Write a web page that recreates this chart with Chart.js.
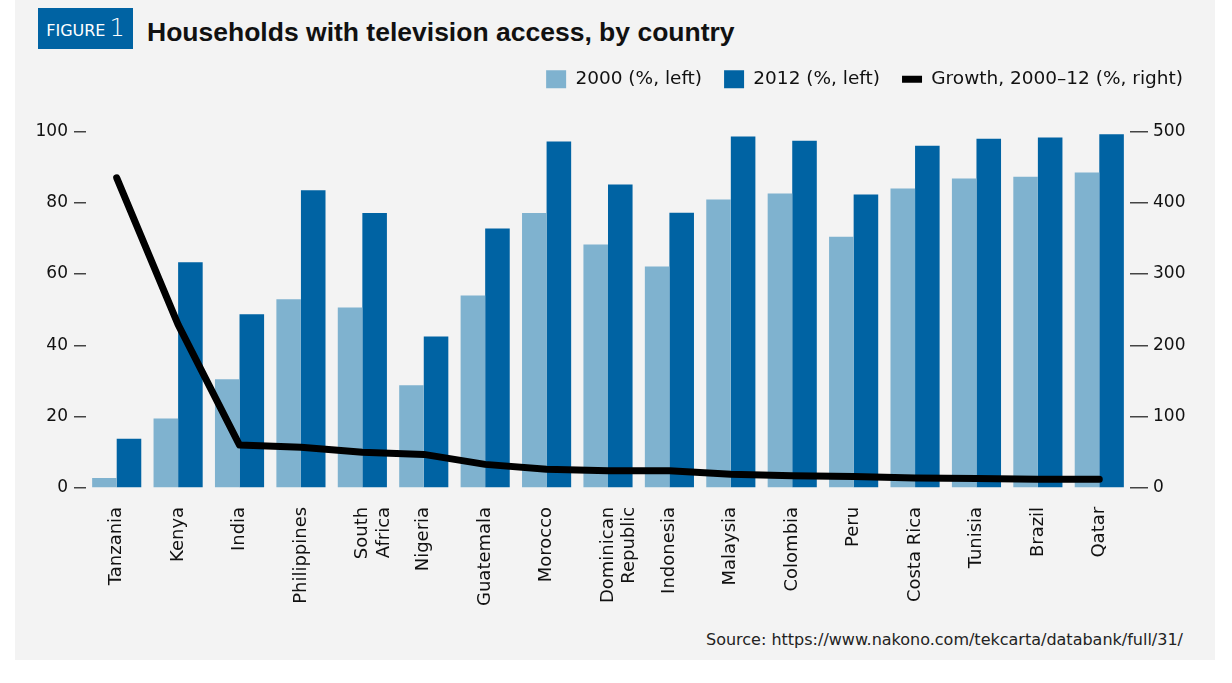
<!DOCTYPE html>
<html>
<head>
<meta charset="utf-8">
<script src="https://cdn.jsdelivr.net/npm/chart.js@4"></script>
<style>
  body { margin: 0; background: #ffffff; width: 1232px; height: 683px; position: relative; overflow: hidden; }
  #panel { position: absolute; left: 15px; top: 0; width: 1200px; height: 660px; background: #f3f3f3; }
  #figbox { position: absolute; left: 38px; top: 8px; width: 95px; height: 41px; background: #0063a3; color: #fff;
    font-family: "DejaVu Sans"; font-size: 16px; line-height: 41px; text-align: center; }
  #figbox span { font-size: 24px; font-weight: 200; margin-left: 4px; }
  #title { position: absolute; left: 147px; top: 17px; font-family: "Liberation Sans"; font-weight: bold; font-size: 26.5px; color: #111; }
  #chartBox { position: absolute; left: 15px; top: 48px; width: 1200px; height: 582px; }
  #source { position: absolute; right: 49px; top: 630px; font-family: "DejaVu Sans"; font-size: 16px; color: #222; }
</style>
</head>
<body>
<div id="panel"></div>
<div id="figbox">FIGURE<span>1</span></div>
<div id="title">Households with television access, by country</div>
<div id="chartBox"><canvas id="myChart"></canvas></div>
<div id="source">Source: https://www.nakono.com/tekcarta/databank/full/31/</div>
<script>
// Países (eixo X)
const paises = ["Tanzania", "Kenya", "India", "Philippines", ["South", "Africa"], "Nigeria", "Guatemala", "Morocco",
  ["Dominican", "Republic"], "Indonesia", "Malaysia", "Colombia", "Peru", "Costa Rica", "Tunisia", "Brazil", "Qatar"];

// Domicílios com TV (%)
const tv2000 = [2.8, 19.5, 30.5, 52.9, 50.6, 28.8, 54.0, 77.1, 68.3, 62.1, 80.9, 82.6, 70.5, 84.0, 86.8, 87.3, 88.5];
const tv2012 = [13.8, 63.3, 48.7, 83.5, 77.1, 42.5, 72.8, 97.2, 85.1, 77.2, 98.6, 97.4, 82.3, 96.0, 98.0, 98.3, 99.2];

// Crescimento 2000-12 (%)
const crescimento = [435, 229, 60, 57, 50, 47, 33, 26, 24, 24, 19, 17, 16, 14, 13, 12, 12];

const fonte = { family: "DejaVu Sans", size: 17 };

// Espaço extra entre a legenda e o gráfico
const legendaEspaco = {
  id: "legendaEspaco",
  beforeInit(chart) {
    const fitOriginal = chart.legend.fit;
    chart.legend.fit = function () {
      fitOriginal.bind(chart.legend)();
      this.height += 33;
    };
  },
};

const ctx = document.getElementById("myChart");
new Chart(ctx, {
  data: {
    labels: paises,
    datasets: [
      { type: "bar", label: "2000 (%, left)", data: tv2000, backgroundColor: "#7fb2cf", yAxisID: "y",
        order: 1, pointStyle: "rect" },
      { type: "bar", label: "2012 (%, left)", data: tv2012, backgroundColor: "#0063a3", yAxisID: "y",
        order: 1, pointStyle: "rect" },
      { type: "line", label: "Growth, 2000\u201312 (%, right)", data: crescimento, borderColor: "#000",
        backgroundColor: "#000", borderWidth: 7, pointRadius: 0, tension: 0, yAxisID: "y2",
        borderCapStyle: "round", borderJoinStyle: "round", order: 0, pointStyle: "line" },
    ],
  },
  plugins: [legendaEspaco],
  options: {
    responsive: true,
    maintainAspectRatio: false,
    animation: false,
    layout: { padding: { left: 0, right: 10, top: 0, bottom: 13 } },
    datasets: { bar: { categoryPercentage: 0.8, barPercentage: 1.0 } },
    plugins: {
      legend: {
        position: "top",
        align: "end",
        labels: {
          usePointStyle: true,
          pointStyleWidth: 20,
          boxHeight: 18,
          color: "#111",
          font: { family: "DejaVu Sans", size: 18.5 },
          padding: 22,
          sort: (a, b) => a.datasetIndex - b.datasetIndex,
        },
      },
      tooltip: { enabled: false },
    },
    scales: {
      x: {
        grid: { display: false },
        border: { display: false },
        ticks: { color: "#111", font: { family: "DejaVu Sans", size: 18 }, minRotation: 90, maxRotation: 90,
          padding: 11, autoSkip: false },
      },
      y: {
        position: "left",
        min: 0, max: 100,
        border: { display: false },
        afterFit: (axis) => { axis.width = 71; },
        grid: { drawOnChartArea: false, drawTicks: true, tickLength: 12, color: "#444", lineWidth: 1.5 },
        ticks: { stepSize: 20, color: "#111", font: fonte, padding: 6 },
      },
      y2: {
        position: "right",
        min: 0, max: 500,
        border: { display: false },
        afterFit: (axis) => { axis.width = 75; },
        grid: { drawOnChartArea: false, drawTicks: true, tickLength: 18, color: "#444", lineWidth: 1.5 },
        ticks: { stepSize: 100, color: "#111", font: fonte, padding: 5 },
      },
    },
  },
});
</script>
</body>
</html>
